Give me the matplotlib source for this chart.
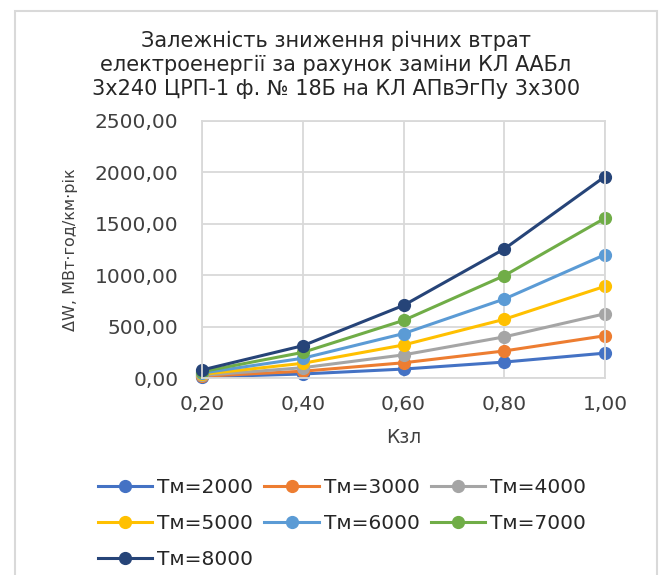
import matplotlib
matplotlib.use('Agg')
import matplotlib.pyplot as plt
from matplotlib.patches import Rectangle
from matplotlib.ticker import FuncFormatter

plt.rcParams['font.family'] = ['DejaVu Sans']

kzl = [0.2, 0.4, 0.6, 0.8, 1.0]

dw_2000 = [10, 39, 87, 155, 242]
dw_3000 = [16, 66, 148, 263, 411]
dw_4000 = [25, 100, 225, 400, 625]
dw_5000 = [36, 143, 321, 571, 892]
dw_6000 = [48, 192, 432, 768, 1200]
dw_7000 = [62, 249, 560, 995, 1555]
dw_8000 = [78, 314, 706, 1255, 1960]

labels = ['Тм=2000', 'Тм=3000', 'Тм=4000', 'Тм=5000', 'Тм=6000', 'Тм=7000', 'Тм=8000']
colors = ['#4472C4', '#ED7D31', '#A5A5A5', '#FFC000', '#5B9BD5', '#70AD47', '#264478']
series = [dw_2000, dw_3000, dw_4000, dw_5000, dw_6000, dw_7000, dw_8000]

title = ('Залежність зниження річних втрат\n'
         'електроенергії за рахунок заміни КЛ ААБл\n'
         '3х240 ЦРП-1 ф. № 18Б на КЛ АПвЭгПу 3х300')

W, H = 660, 575
fig = plt.figure(figsize=(W / 100, H / 100), dpi=100)
ax = fig.add_axes([202 / W, 1 - 378 / H, (605 - 202) / W, (378 - 121) / H])

handles = []
for y, lab, c in zip(series, labels, colors):
    ln, = ax.plot(kzl, y, color=c, lw=2.2, marker='o', ms=8.5, label=lab, clip_on=False)
    handles.append(ln)

ax.set_xlim(0.2, 1.0)
ax.set_ylim(0, 2500)
ax.set_xticks(kzl)
ax.set_yticks([0, 500, 1000, 1500, 2000, 2500])
fmt = FuncFormatter(lambda v, p: f'{v:.2f}'.replace('.', ','))
ax.xaxis.set_major_formatter(fmt)
ax.yaxis.set_major_formatter(fmt)
ax.tick_params(length=0, labelsize=14.5, colors='#404040')
ax.tick_params(axis='y', pad=17)
ax.tick_params(axis='x', pad=12)
ax.grid(color='#D9D9D9', lw=1.3)
ax.set_axisbelow(True)
for s in ax.spines.values():
    s.set_color('#D9D9D9')
    s.set_linewidth(1.3)

ax.set_xlabel('Кзл', fontsize=13.5, color='#404040', labelpad=10)
ax.set_ylabel('ΔW, МВт·год/км·рік', fontsize=11.5, color='#404040', labelpad=12)

fig.text(336 / W, 1 - 31 / H, title, ha='center', va='top', fontsize=15,
         color='#262626', linespacing=1.25)

# legend rows read left to right: 2000 3000 4000 / 5000 6000 7000 / 8000
order = [0, 3, 6, 1, 4, 2, 5]
fig.legend([handles[i] for i in order], [labels[i] for i in order],
           loc='upper left', bbox_to_anchor=(98 / W, 1 - 478 / H), ncol=3,
           frameon=False, fontsize=14.5, handlelength=2.7, handletextpad=0.25,
           columnspacing=0.55, labelspacing=0.85, borderaxespad=0, borderpad=0,
           labelcolor='#262626')

fig.add_artist(Rectangle((15.5 / W, -0.01), (657 - 15.5) / W, 1 - 10.5 / H + 0.01,
                         transform=fig.transFigure, fill=False,
                         ec='#D9D9D9', lw=1.5))

fig.savefig('out.png', dpi=100, facecolor='white')
